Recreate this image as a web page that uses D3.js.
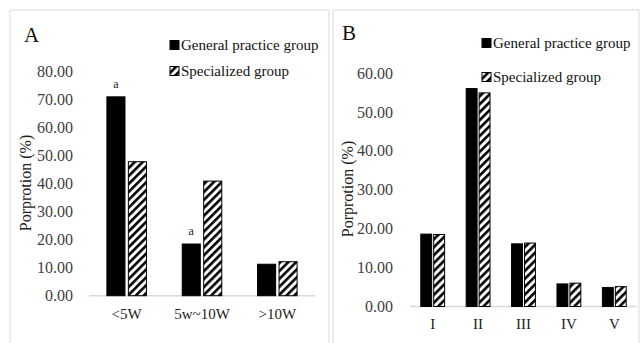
<!DOCTYPE html>
<html>
<head>
<meta charset="utf-8">
<script src="https://cdn.jsdelivr.net/npm/d3@7"></script>
<style>
  body { margin: 0; background: #fff; }
</style>
</head>
<body>
<div id="chart"></div>
<script>
// data
const seriesNames = ['General practice group', 'Specialized group'];

const catsA = ['<5W', '5w~10W', '>10W'];
const generalA = [70.8, 18.4, 11.2];
const specialA = [47.7, 40.8, 12.1];
const marksA = ['a', 'a', ''];   // significance letters over general bars
const ticksA = [0, 10, 20, 30, 40, 50, 60, 70, 80];

const catsB = ['I', 'II', 'III', 'IV', 'V'];
const generalB = [18.6, 56.0, 16.1, 5.8, 4.9];
const specialB = [18.5, 54.9, 16.3, 6.0, 5.1];
const ticksB = [0, 10, 20, 30, 40, 50, 60];

const W = 641, H = 343;
const SERIF = '"Liberation Serif", "Times New Roman", serif';

const svg = d3.select('#chart').append('svg')
    .attr('width', W)
    .attr('height', H)
    .style('font-family', SERIF);

// hatch pattern for the specialized group
const defs = svg.append('defs');
defs.append('pattern')
    .attr('id', 'hatch')
    .attr('patternUnits', 'userSpaceOnUse')
    .attr('width', 5.6)
    .attr('height', 5.6)
    .attr('patternTransform', 'rotate(45)')
    .call(p => {
        p.append('rect').attr('width', 5.6).attr('height', 5.6).attr('fill', '#fff');
        p.append('rect').attr('width', 2.6).attr('height', 5.6).attr('fill', '#000');
    });

function drawPanel(opt)
{
    const g = svg.append('g');

    // panel frame (light gray, open at the bottom)
    g.append('path')
        .attr('d', `M${opt.frame[0]},${H + 2}V${opt.frame[2]}H${opt.frame[1]}V${H + 2}`)
        .attr('fill', 'none')
        .attr('stroke', '#d9d9d9')
        .attr('stroke-width', 1);

    const x = d3.scaleBand()
        .domain(opt.cats)
        .range([opt.x0, opt.x1])
        .padding(0);

    const y = d3.scaleLinear()
        .domain([0, opt.ticks[opt.ticks.length - 1]])
        .range([opt.y0, opt.yTop]);

    const inner = d3.scaleBand()
        .domain(seriesNames)
        .range([x.bandwidth() * 0.2375, x.bandwidth() * 0.7625])
        .paddingInner(0.158)
        .paddingOuter(0);

    // y axis: labels only
    const yAxis = g.append('g')
        .attr('transform', `translate(${opt.x0},0)`)
        .call(d3.axisLeft(y).tickValues(opt.ticks).tickSize(0).tickPadding(opt.tickPad).tickFormat(d3.format('.2f')));
    yAxis.attr('font-family', null).attr('font-size', null);
    yAxis.select('.domain').remove();
    yAxis.selectAll('text')
        .style('font-family', SERIF)
        .style('font-size', '16px')
        .attr('fill', '#404040');

    // x axis line
    g.append('line')
        .attr('x1', opt.x0).attr('x2', opt.x1)
        .attr('y1', y(0)).attr('y2', y(0))
        .attr('stroke', '#d9d9d9')
        .attr('stroke-width', 1.5);

    // bars
    const rows = opt.cats.map((c, i) => ({ cat: c, vals: [opt.general[i], opt.special[i]] }));
    const grp = g.selectAll('.grp')
        .data(rows)
        .enter().append('g')
        .attr('class', 'grp')
        .attr('transform', d => `translate(${x(d.cat)},0)`);

    grp.selectAll('rect')
        .data(d => d.vals.map((v, k) => ({ s: seriesNames[k], v: v })))
        .enter().append('rect')
        .attr('x', d => inner(d.s))
        .attr('y', d => y(d.v))
        .attr('width', inner.bandwidth())
        .attr('height', d => y(0) - y(d.v))
        .attr('fill', d => d.s === seriesNames[0] ? '#000' : 'url(#hatch)')
        .attr('stroke', '#000')
        .attr('stroke-width', 1);

    // significance letters
    if (opt.marks) {
        grp.append('text')
            .attr('x', (d) => inner(seriesNames[0]) + inner.bandwidth() / 2)
            .attr('y', (d) => y(d.vals[0]) - 9)
            .attr('text-anchor', 'middle')
            .style('font-size', '12px')
            .attr('fill', '#222')
            .text((d, i) => opt.marks[i]);
    }

    // category labels
    g.selectAll('.cat')
        .data(opt.cats)
        .enter().append('text')
        .attr('class', 'cat')
        .attr('x', d => x(d) + x.bandwidth() / 2)
        .attr('y', opt.catY)
        .attr('text-anchor', 'middle')
        .style('font-size', '15px')
        .attr('fill', '#222')
        .text(d => d);

    // y title
    g.append('text')
        .attr('transform', `translate(${opt.titleX},${opt.titleY}) rotate(-90)`)
        .attr('text-anchor', 'middle')
        .attr('dy', '0.35em')
        .style('font-size', '16px')
        .attr('fill', '#222')
        .text('Porprotion (%)');

    // panel letter
    g.append('text')
        .attr('x', opt.letterX)
        .attr('y', opt.letterY)
        .style('font-size', '21px')
        .attr('fill', '#111')
        .text(opt.letter);

    // legend
    const leg = g.selectAll('.leg')
        .data(seriesNames)
        .enter().append('g')
        .attr('class', 'leg')
        .attr('transform', (d, i) => `translate(${opt.legX},${opt.legY[i]})`);
    leg.append('rect')
        .attr('x', 0).attr('y', -4.5)
        .attr('width', 9).attr('height', 9)
        .attr('fill', (d, i) => i === 0 ? '#000' : 'url(#hatch)')
        .attr('stroke', '#000')
        .attr('stroke-width', 1);
    leg.append('text')
        .attr('x', 11)
        .attr('dy', '0.35em')
        .style('font-size', '15px')
        .attr('fill', '#111')
        .text(d => d);
}

drawPanel({
    letter: 'A', letterX: 24, letterY: 42,
    frame: [10, 329, 10],
    cats: catsA, general: generalA, special: specialA, marks: marksA, ticks: ticksA,
    x0: 89, x1: 315, y0: 295.7, yTop: 71, tickPad: 16,
    catY: 319, titleX: 25, titleY: 183,
    legX: 170, legY: [45, 71]
});

drawPanel({
    letter: 'B', letterX: 342, letterY: 40,
    frame: [333, 639, 10],
    cats: catsB, general: generalB, special: specialB, marks: null, ticks: ticksB,
    x0: 410, x1: 637, y0: 306.5, yTop: 73, tickPad: 17,
    catY: 329, titleX: 347, titleY: 189,
    legX: 482, legY: [43, 77]
});
</script>
</body>
</html>
